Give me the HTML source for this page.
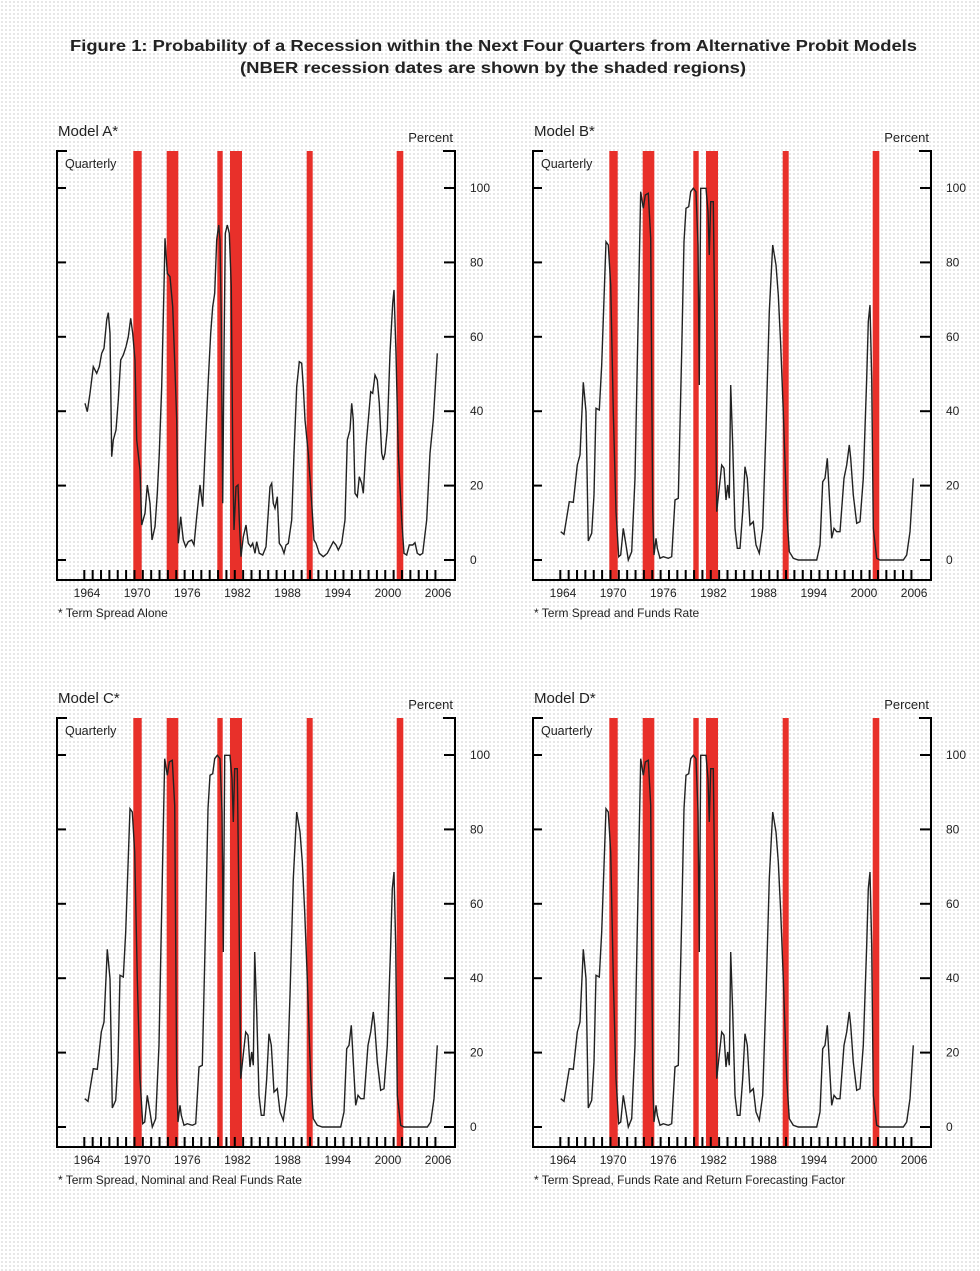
<!DOCTYPE html>
<html><head><meta charset="utf-8"><style>
html,body{margin:0;padding:0}
body{width:980px;height:1271px;background-color:#fff;background-image:radial-gradient(circle,#c8c8c8 0.6px,transparent 0.9px);background-size:4px 4px;font-family:"Liberation Sans",sans-serif;overflow:hidden}
svg{position:absolute;left:0;top:0}
text{font-family:"Liberation Sans",sans-serif;fill:#222}
</style></head><body>
<svg id="s" width="980" height="1271" xmlns="http://www.w3.org/2000/svg">
<text x="70" y="51" font-size="16" font-weight="bold" textLength="847" lengthAdjust="spacingAndGlyphs">Figure 1: Probability of a Recession within the Next Four Quarters from Alternative Probit Models</text>
<text x="240" y="73" font-size="16" font-weight="bold" textLength="506" lengthAdjust="spacingAndGlyphs">(NBER recession dates are shown by the shaded regions)</text>
</svg>
<script>
var A=[[135,850],[142,875],[150,820],[160,740],[170,760],[178,740],[185,700],[192,685],[200,600],[205,578],[210,640],[215,1010],[220,960],[228,930],[235,840],[242,720],[250,705],[258,680],[265,650],[272,595],[278,640],[285,720],[290,960],[300,1050],[305,1215],[315,1180],[322,1095],[330,1150],[336,1260],[345,1220],[352,1120],[358,1000],[365,800],[372,500],[375,355],[382,460],[390,470],[398,560],[405,750],[410,900],[415,1270],[422,1190],[430,1260],[437,1280],[445,1265],[455,1260],[462,1275],[470,1190],[480,1095],[488,1160],[495,1000],[505,780],[512,640],[518,560],[524,520],[530,360],[536,315],[540,360],[544,600],[548,1150],[552,700],[556,340],[562,315],[568,340],[574,500],[578,1000],[582,1230],[588,1100],[594,1095],[598,1200],[603,1310],[610,1250],[618,1215],[625,1270],[632,1280],[638,1270],[645,1300],[650,1265],[658,1300],[668,1305],[678,1280],[690,1100],[695,1090],[700,1150],[705,1165],[712,1130],[718,1270],[725,1280],[732,1300],[738,1275],[745,1270],[755,1200],[762,1000],[770,800],[778,725],[785,730],[790,800],[795,900],[805,1000],[815,1150],[822,1260],[828,1270],[838,1300],[850,1310],[862,1300],[872,1280],[880,1265],[888,1275],[895,1290],[905,1270],[915,1200],[922,960],[930,930],[935,850],[940,900],[945,1120],[952,1130],[958,1070],[965,1090],[970,1120],[978,980],[985,900],[992,815],[998,820],[1005,765],[1012,780],[1018,850],[1025,1000],[1030,1020],[1035,1000],[1042,930],[1050,700],[1058,550],[1062,510],[1068,700],[1075,1000],[1085,1200],[1092,1300],[1100,1305],[1108,1275],[1118,1275],[1125,1268],[1132,1300],[1140,1305],[1148,1300],[1160,1200],[1170,1000],[1180,900],[1192,700]];
var B=[[62,1160],[72,1168],[88,1070],[100,1072],[112,960],[120,930],[130,712],[138,800],[145,1188],[155,1165],[162,1050],[168,790],[178,795],[185,660],[198,290],[205,300],[212,420],[220,800],[228,1100],[236,1235],[242,1230],[250,1150],[258,1200],[265,1245],[275,1220],[285,1000],[295,500],[302,140],[310,190],[316,150],[325,145],[332,280],[338,1100],[342,1230],[348,1180],[352,1210],[360,1240],[370,1235],[385,1240],[395,1235],[405,1065],[415,1060],[425,620],[432,290],[438,190],[446,185],[452,140],[460,130],[468,140],[474,300],[478,720],[482,130],[498,130],[504,200],[508,330],[512,170],[520,170],[525,600],[530,1100],[535,1055],[545,960],[552,970],[558,1065],[563,1020],[568,1060],[572,720],[578,900],[585,1150],[592,1210],[600,1210],[608,1100],[615,965],[622,1000],[630,1140],[640,1130],[648,1200],[658,1225],[668,1150],[678,850],[688,500],[698,300],[708,360],[715,450],[722,600],[730,800],[740,1100],[748,1220],[760,1240],[775,1245],[830,1245],[840,1200],[848,1010],[855,1000],[862,940],[868,1050],[875,1180],[882,1150],[890,1160],[900,1160],[912,1000],[920,960],[928,900],[932,940],[940,1050],[950,1135],[960,1130],[970,1000],[980,700],[985,530],[990,480],[995,700],[1000,1150],[1010,1240],[1020,1245],[1090,1245],[1100,1230],[1110,1160],[1120,1000]];
var Ap=A.map(function(p){return [40+p[0]/3,120+p[1]/3]});
var Bp=B.map(function(p){return [540+p[0]/3-476,145+p[1]/3]});
var s=document.getElementById('s'),h='';
function panel(ox,oy,pts,title,foot){
 var L=57+ox,R=455+ox,T=151+oy,Bt=580+oy;
 var bars=[[133.3,141.7],[166.7,178.3],[217.3,222.7],[230,242],[306.7,312.7],[396.7,403.3]];
 bars.forEach(function(b){h+='<rect x="'+(b[0]+ox)+'" y="'+T+'" width="'+(b[1]-b[0])+'" height="'+(Bt-T)+'" fill="#e8302a"/>';});
 h+='<path d="M'+(L+10)+' '+T+'H'+L+'V'+Bt+'H'+R+'V'+T+'H'+(R-12)+'" fill="none" stroke="#000" stroke-width="2"/>';
 for(var v=0;v<=100;v+=20){var y=560+oy-v*3.72;
  h+='<line x1="'+L+'" x2="'+(L+9)+'" y1="'+y+'" y2="'+y+'" stroke="#000" stroke-width="2"/>';
  h+='<line x1="'+(R-11)+'" x2="'+R+'" y1="'+y+'" y2="'+y+'" stroke="#000" stroke-width="2"/>';
  h+='<text x="'+(R+15)+'" y="'+(y+4)+'" font-size="12">'+v+'</text>';}
 for(var i=0;i<43;i++){var x=84.3+ox+i*8.36;h+='<line x1="'+x+'" x2="'+x+'" y1="'+(Bt-10)+'" y2="'+Bt+'" stroke="#000" stroke-width="2"/>';}
 for(var yr=1964;yr<=2006;yr+=6){var x=87+ox+(yr-1964)*8.36;h+='<text x="'+x+'" y="'+(597+oy)+'" font-size="12" text-anchor="middle">'+yr+'</text>';}
 h+='<path d="M'+pts.map(function(p){return (p[0]+ox).toFixed(1)+' '+(p[1]+oy).toFixed(1)}).join('L')+'" fill="none" stroke="#222" stroke-width="1.4"/>';
 h+='<text x="'+(58+ox)+'" y="'+(136+oy)+'" font-size="15">'+title+'</text>';
 h+='<text x="'+(453+ox)+'" y="'+(142+oy)+'" font-size="13" text-anchor="end">Percent</text>';
 h+='<text x="'+(65+ox)+'" y="'+(168+oy)+'" font-size="12.5">Quarterly</text>';
 h+='<text x="'+(58+ox)+'" y="'+(617+oy)+'" font-size="12">'+foot+'</text>';
}
panel(0,0,Ap,'Model A*','* Term Spread Alone');
panel(476,0,Bp,'Model B*','* Term Spread and Funds Rate');
panel(0,567,Bp,'Model C*','* Term Spread, Nominal and Real Funds Rate');
panel(476,567,Bp,'Model D*','* Term Spread, Funds Rate and Return Forecasting Factor');
s.insertAdjacentHTML('beforeend',h);
</script>
</body></html>
